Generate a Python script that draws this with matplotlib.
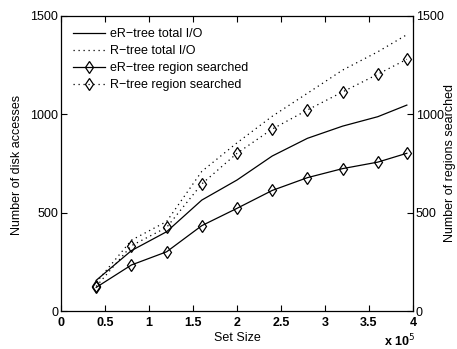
import numpy as np
import matplotlib
matplotlib.use('Agg')
import matplotlib.pyplot as plt
from matplotlib.ticker import FormatStrFormatter

plt.rcParams['font.family'] = ['Liberation Sans', 'DejaVu Sans']

# set sizes and disk access counts
set_size = np.array([40000, 80000, 120000, 160000, 200000, 240000, 280000, 320000, 360000, 393000])
er_total = [156, 307, 403, 564, 666, 788, 878, 940, 988, 1047]
r_total = [145, 360, 455, 710, 855, 990, 1107, 1225, 1318, 1405]
er_region = [120, 234, 301, 434, 522, 613, 678, 724, 757, 802]
r_region = [125, 332, 425, 646, 802, 925, 1022, 1114, 1204, 1280]

labels = ['eR\u2212tree total I/O', 'R\u2212tree total I/O',
          'eR\u2212tree region searched', 'R\u2212tree region searched']

fig = plt.figure(figsize=(4.57, 3.49), dpi=100)
ax = fig.add_axes([61/457, 1-311/349, 352/457, 295/349])

dots = (0, (1, 3))
x = set_size / 1e5
ax.plot(x, er_total, '-', color='k', lw=0.9, label=labels[0])
ax.plot(x, r_total, linestyle=dots, color='k', lw=0.9, label=labels[1])
ax.plot(x, er_region, '-', color='k', lw=0.9, marker='d', ms=6.5, mfc='none', mec='k', mew=0.9, label=labels[2])
ax.plot(x, r_region, linestyle=dots, color='k', lw=0.9, marker='d', ms=6.5, mfc='none', mec='k', mew=0.9, label=labels[3])

ax.set_xlim(0, 4)
ax.set_ylim(0, 1500)
ax.set_xticks(np.arange(0, 4.01, 0.5))
ax.set_yticks([0, 500, 1000, 1500])
ax.xaxis.set_major_formatter(FormatStrFormatter('%g'))
ax.tick_params(direction='in', length=4, width=0.8, top=True, right=True,
               labelright=True, labelsize=9)
ax.tick_params(axis='x', pad=4)
ax.tick_params(axis='y', pad=2)
for t in ax.get_xticklabels():
    t.set_fontweight('bold')
for s in ax.spines.values():
    s.set_linewidth(0.9)

ax.legend(loc='upper left', bbox_to_anchor=(0.035, 0.958), frameon=False, fontsize=9,
          handlelength=2.5, handletextpad=0.4, labelspacing=0.4, borderpad=0, borderaxespad=0,
          numpoints=1)

fig.text(17/457, 1-165/349, 'Number of disk accesses', rotation=90, ha='center', va='center', fontsize=9)
fig.text(456/457, 1-163/349, 'Number of regions searched', rotation=90, ha='right', va='center', fontsize=9)
fig.text(237/457, 1-338/349, 'Set Size', ha='center', va='center', fontsize=9)
fig.text(384/457, 1-341/349, 'x 10$^5$', ha='left', va='center', fontsize=9, fontweight='bold')

fig.savefig('out.png', dpi=100)
